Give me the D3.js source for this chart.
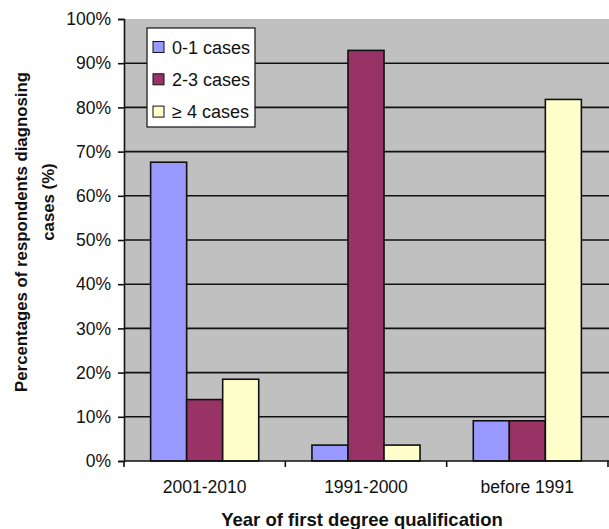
<!DOCTYPE html>
<html>
<head>
<meta charset="utf-8">
<script src="https://cdn.jsdelivr.net/npm/d3@7"></script>
<style>
  html, body { margin: 0; padding: 0; background: #fff; }
  svg { display: block; font-family: "Liberation Sans", Arial, sans-serif; }
</style>
</head>
<body>
<svg id="chart" width="609" height="529"></svg>
<script>
// Qualification periods along the x axis
const categories = ["2001-2010", "1991-2000", "before 1991"];
// Case-count groups (legend entries)
const seriesNames = ["0-1 cases", "2-3 cases", "\u2265 4 cases"];
// Percentage of respondents per period, one array per case group
const cases01 = [67.6, 3.6, 9.1];
const cases23 = [13.9, 92.9, 9.1];
const cases4plus = [18.5, 3.6, 81.8];
// y axis tick values
const yTicks = [0, 10, 20, 30, 40, 50, 60, 70, 80, 90, 100];

const seriesValues = [cases01, cases23, cases4plus];
const colors = ["#9999FF", "#993366", "#FFFFCC"];

const svg = d3.select("#chart");
const plot = { left: 124, top: 19, right: 608, bottom: 461 };

const x = d3.scaleBand().domain(categories).range([plot.left, plot.right]).padding(0);
const y = d3.scaleLinear().domain([0, 100]).range([plot.bottom, plot.top]);
const groupFrac = 0.67;
const x1 = d3.scaleBand().domain(seriesNames)
  .range([0, x.bandwidth() * groupFrac]).padding(0);
const groupOffset = x.bandwidth() * (1 - groupFrac) / 2;

// plot background
svg.append("rect")
  .attr("x", plot.left).attr("y", plot.top)
  .attr("width", plot.right - plot.left + 2).attr("height", plot.bottom - plot.top)
  .attr("fill", "#C0C0C0");

// horizontal gridlines
svg.append("g")
  .selectAll("line")
  .data(yTicks.filter(t => t > 0 && t < 100))
  .join("line")
  .attr("x1", plot.left).attr("x2", plot.right + 2)
  .attr("y1", d => y(d)).attr("y2", d => y(d))
  .attr("stroke", "#111").attr("stroke-width", 1.6);

// bars
const rows = categories.map((c, i) => ({
  cat: c,
  vals: seriesNames.map((s, j) => ({ s, j, v: seriesValues[j][i] }))
}));
svg.append("g")
  .selectAll("g")
  .data(rows)
  .join("g")
  .attr("transform", d => `translate(${x(d.cat) + groupOffset},0)`)
  .selectAll("rect")
  .data(d => d.vals)
  .join("rect")
  .attr("x", d => x1(d.s))
  .attr("width", x1.bandwidth())
  .attr("y", d => y(d.v))
  .attr("height", d => y(0) - y(d.v))
  .attr("fill", d => colors[d.j])
  .attr("stroke", "#111").attr("stroke-width", 1.6);

// y axis
const yAxis = d3.axisLeft(y).tickValues(yTicks).tickFormat(d => d + "%")
  .tickSize(6).tickPadding(7);
const gy = svg.append("g").attr("transform", `translate(${plot.left},0)`).call(yAxis);
gy.select(".domain").attr("stroke", "#111").attr("stroke-width", 1.6);
gy.selectAll(".tick line").attr("stroke", "#111").attr("stroke-width", 1.6);
gy.selectAll(".tick text").attr("font-size", 17.5).attr("fill", "#111")
  .attr("font-family", "Liberation Sans, Arial, sans-serif");

// x axis with category ticks on band boundaries
const gx = svg.append("g").attr("transform", `translate(0,${plot.bottom})`);
gx.append("line").attr("x1", plot.left).attr("x2", plot.right + 2)
  .attr("stroke", "#111").attr("stroke-width", 1.6);
gx.selectAll("line.tk")
  .data(categories.map(c => x(c)).concat([plot.right]))
  .join("line").attr("class", "tk")
  .attr("x1", d => d).attr("x2", d => d).attr("y1", 0).attr("y2", 6)
  .attr("stroke", "#111").attr("stroke-width", 1.6);
gx.selectAll("text")
  .data(categories)
  .join("text")
  .attr("x", d => x(d) + x.bandwidth() / 2)
  .attr("y", 32)
  .attr("text-anchor", "middle")
  .attr("font-size", 17.5).attr("fill", "#111")
  .text(d => d);

// axis titles
svg.append("text")
  .attr("x", 362).attr("y", 526)
  .attr("text-anchor", "middle")
  .attr("font-size", 18.5).attr("font-weight", "bold").attr("fill", "#111")
  .text("Year of first degree qualification");

svg.append("text")
  .attr("transform", "translate(27,232) rotate(-90)")
  .attr("text-anchor", "middle").attr("font-size", 16.8).attr("font-weight", "bold").attr("fill", "#111")
  .text("Percentages of respondents diagnosing");
svg.append("text")
  .attr("transform", "translate(54,202) rotate(-90)")
  .attr("text-anchor", "middle").attr("font-size", 16.8).attr("font-weight", "bold").attr("fill", "#111")
  .text("cases (%)");

// legend
const legend = svg.append("g");
legend.append("rect")
  .attr("x", 147).attr("y", 28).attr("width", 108).attr("height", 99)
  .attr("fill", "#fff").attr("stroke", "#111").attr("stroke-width", 1.2);
const items = legend.selectAll("g.item")
  .data(seriesNames)
  .join("g").attr("class", "item")
  .attr("transform", (d, i) => `translate(0,${47 + i * 32.3})`);
items.append("rect")
  .attr("x", 153).attr("y", -5.5).attr("width", 11).attr("height", 11)
  .attr("fill", (d, i) => colors[i]).attr("stroke", "#111").attr("stroke-width", 1);
items.append("text")
  .attr("x", 172).attr("y", 6.5)
  .attr("font-size", 18).attr("fill", "#111")
  .text(d => d);
</script>
</body>
</html>
